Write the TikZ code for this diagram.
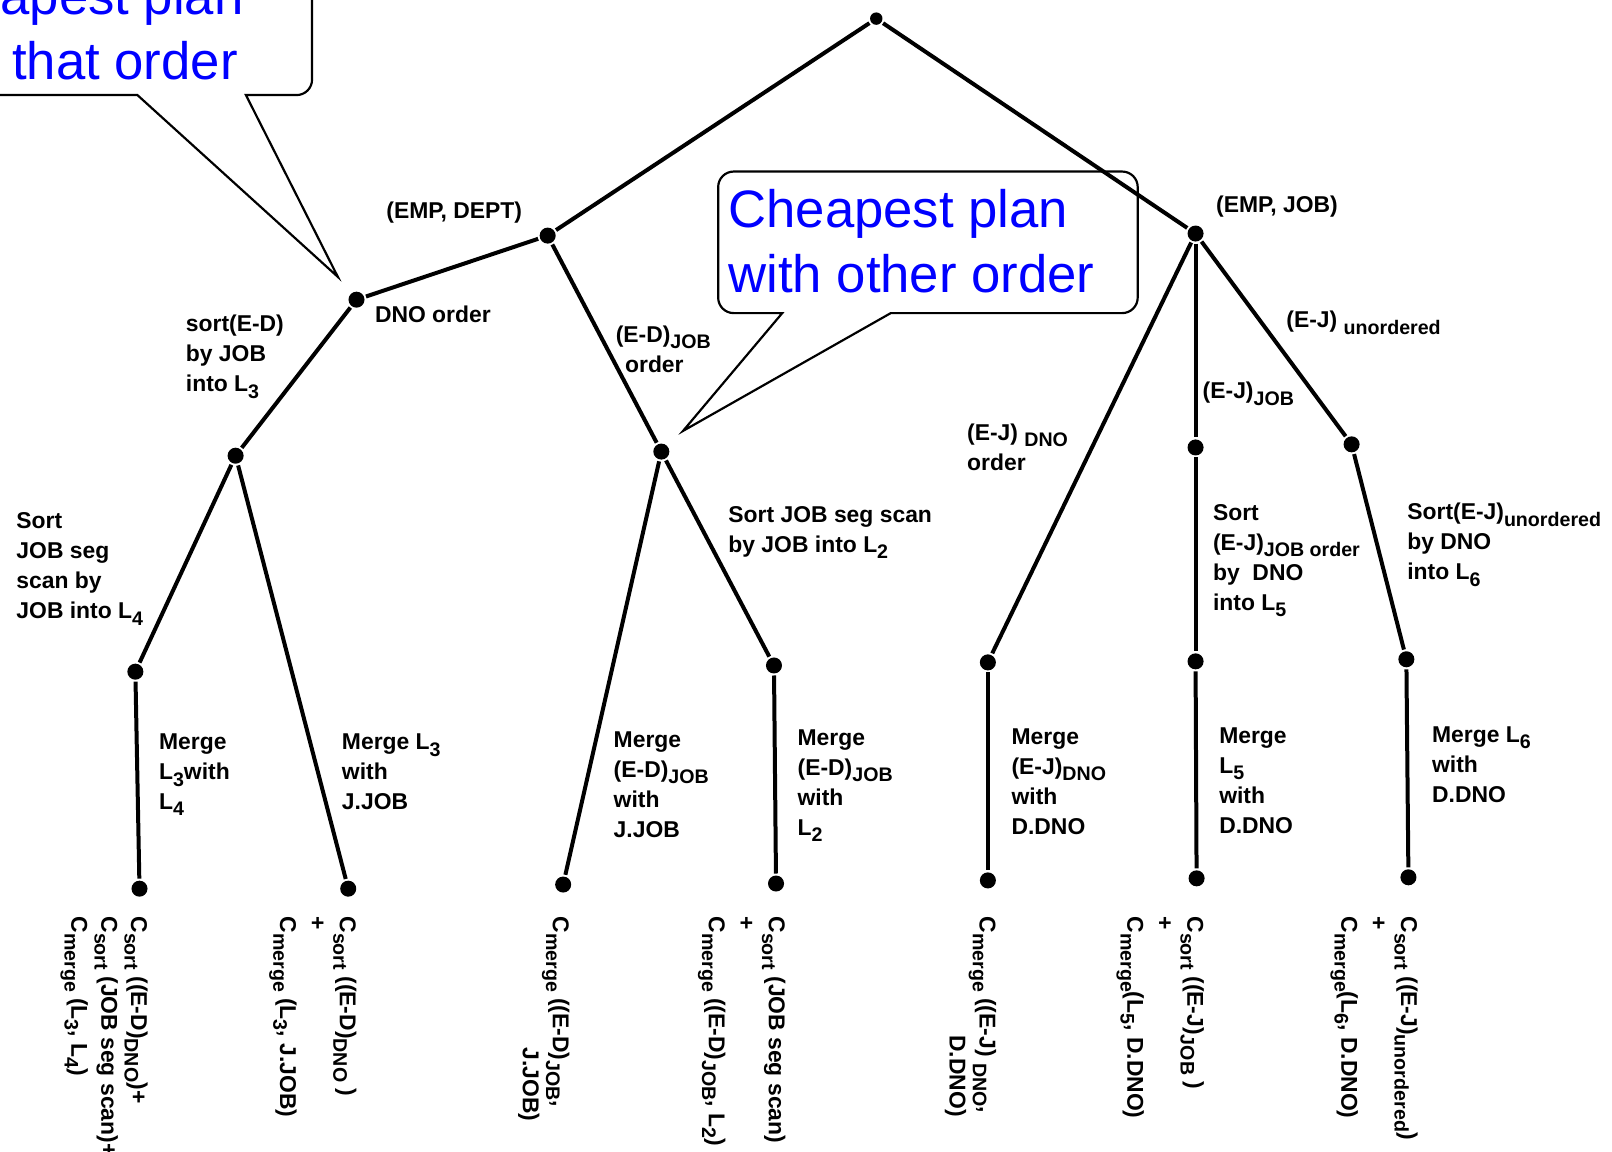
\documentclass[tikz,border=0pt]{standalone}
\usepackage{fontspec}
\setmainfont{Liberation Sans}
\usepackage{tikz}
\usetikzlibrary{arrows}

\newcommand{\dn}[1]{\raisebox{-0.55ex}{\fontsize{5.4}{6}\selectfont #1}}

\begin{document}
\begin{tikzpicture}[x=0.01cm,y=-0.01cm,line width=1.1pt,
  dot node/.style={circle,fill=black,inner sep=0pt,minimum size=0.155cm},
  label node/.style={align=left,anchor=north west,inner sep=0pt,font=\fontsize{6.3}{8.25}\selectfont\bfseries},
  cost node/.style={label node,rotate=-90},
  note text/.style={align=left,anchor=north west,inner sep=0pt,text=blue,font=\fontsize{14.5}{17.9}\selectfont},
  callout/.style={draw,line width=0.6pt}]
  \useasboundingbox (0,0) rectangle (1560,1114);

  % tree points
  \node[dot node,minimum size=0.12cm] (1) at (848,18) {};
  \node[dot node] (2) at (530,228) {};
  \node[dot node] (3) at (1157,226) {};
  \node[dot node] (4) at (345,290) {};
  \node[dot node] (5) at (640,437) {};
  \node[dot node] (6) at (228,441) {};
  \node[dot node] (7) at (131,650) {};
  \node[dot node] (8) at (135,860) {};
  \node[dot node] (9) at (337,860) {};
  \node[dot node] (10) at (545,856) {};
  \node[dot node] (11) at (749,644) {};
  \node[dot node] (12) at (751,855) {};
  \node[dot node] (13) at (956,641) {};
  \node[dot node] (14) at (956,852) {};
  \node[dot node] (15) at (1157,433) {};
  \node[dot node] (16) at (1157,640) {};
  \node[dot node] (17) at (1158,850) {};
  \node[dot node] (18) at (1308,430) {};
  \node[dot node] (19) at (1361,638) {};
  \node[dot node] (20) at (1363,849) {};

  \path (1) edge (2) edge (3)
        (2) edge (4) edge (5)
        (4) edge (6)
        (6) edge (7) edge (9)
        (7) edge (8)
        (5) edge (10) edge (11)
        (11) edge (12)
        (3) edge (13) edge (15) edge (18)
        (13) edge (14)
        (15) edge (16)
        (16) edge (17)
        (18) edge (19)
        (19) edge (20);

  % labels on the branches
  \node[label node] (a1) at (372,193) {(EMP, DEPT)};
  \node[label node] (a2) at (1175,188) {(EMP, JOB)};
  \node[label node] (a3) at (361,294) {DNO order};
  \node[label node] (a4) at (178,303) {sort(E-D)\\by JOB\\into L\dn{3}};
  \node[label node] (a5) at (594,313) {(E-D)\dn{JOB}\\\hspace*{0.09cm}order};
  \node[label node] (a6) at (1243,299) {(E-J) \dn{unordered}};
  \node[label node] (a7) at (1162,368) {(E-J)\dn{JOB}};
  \node[label node] (a8) at (934,408) {(E-J) \dn{DNO}\\order};
  \node[label node] (a9) at (14,494) {Sort\\JOB seg\\scan by\\JOB into L\dn{4}};
  \node[label node] (a10) at (703,488) {Sort JOB seg scan\\by JOB into L\dn{2}};
  \node[label node] (a11) at (1172,486) {Sort\\(E-J)\dn{JOB order}\\by\ \ DNO\\into L\dn{5}};
  \node[label node] (a12) at (1360,485) {Sort(E-J)\dn{unordered}\\by DNO\\into L\dn{6}};
  \node[label node] (a13) at (152,708) {Merge\\L\dn{3}with\\L\dn{4}};
  \node[label node] (a14) at (329,708) {Merge L\dn{3}\\with\\J.JOB};
  \node[label node] (a15) at (592,706) {Merge\\(E-D)\dn{JOB}\\with\\J.JOB};
  \node[label node] (a16) at (770,704) {Merge\\(E-D)\dn{JOB}\\with\\L\dn{2}};
  \node[label node] (a17) at (977,703) {Merge\\(E-J)\dn{DNO}\\with\\D.DNO};
  \node[label node] (a18) at (1178,702) {Merge\\L\dn{5}\\with\\D.DNO};
  \node[label node] (a19) at (1384,701) {Merge L\dn{6}\\with\\D.DNO};

  % costs under the leaves
  \node[cost node] (c1) at (145,885) {C\dn{sort} ((E-D)\dn{DNO})+\\C\dn{sort} (JOB seg scan)+\\C\dn{merge} (L\dn{3}, L\dn{4})};
  \node[cost node] (c2) at (347,885) {C\dn{sort} ((E-D)\dn{DNO} )\\+\\C\dn{merge} (L\dn{3}, J.JOB)};
  \node[cost node] (c3) at (553,885) {C\dn{merge} ((E-D)\dn{JOB},\\\hspace*{1.27cm}J.JOB)};
  \node[cost node] (c4) at (762,885) {C\dn{sort} (JOB seg scan)\\+\\C\dn{merge} ((E-D)\dn{JOB}, L\dn{2})};
  \node[cost node] (c5) at (966,885) {C\dn{merge} ((E-J) \dn{DNO},\\\hspace*{1.15cm}D.DNO)};
  \node[cost node] (c6) at (1167,885) {C\dn{sort} ((E-J)\dn{JOB} )\\+\\C\dn{merge}(L\dn{5}, D.DNO)};
  \node[cost node] (c7) at (1374,885) {C\dn{sort} ((E-J)\dn{unordered})\\+\\C\dn{merge}(L\dn{6}, D.DNO)};

  % callouts
  \draw[callout] (327,268) -- (133,92) [rounded corners=0.15cm] -- (-130,92) -- (-130,-80) -- (302,-80) -- (302,92) [sharp corners] -- (238,92) -- cycle;
  \node[note text] (n1) at (-95,-25) {Cheapest plan\\with that order};
  \draw[callout] (661,417) -- (757,303) [rounded corners=0.15cm] -- (695,303) -- (695,166) -- (1101,166) -- (1101,303) [sharp corners] -- (862,303) -- cycle;
  \node[note text] (n2) at (703,181) {Cheapest plan\\with other order};
\end{tikzpicture}
\end{document}
